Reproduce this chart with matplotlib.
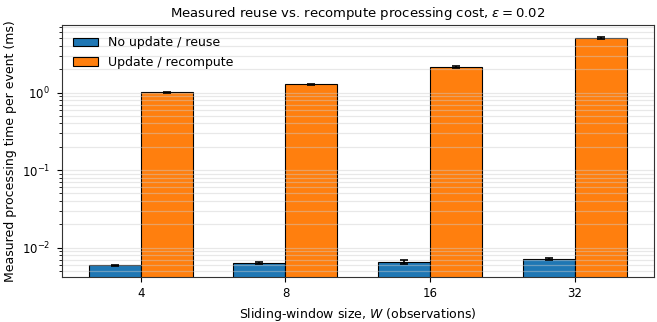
import matplotlib
matplotlib.use("Agg")
from matplotlib import pyplot as plt
import numpy as np

# Datos
windows = ["4", "8", "16", "32"]
reuse_ms = [0.00593, 0.00628, 0.00654, 0.00715]
reuse_err = [0.00010, 0.00015, 0.00040, 0.00030]
recompute_ms = [1.01, 1.27, 2.14, 5.0]
recompute_err = [0.01, 0.03, 0.06, 0.15]

labels = ["No update / reuse", "Update / recompute"]

x = np.arange(len(windows))
width = 0.36

fig, ax = plt.subplots(figsize=(6.57, 3.22), dpi=100)

ax.bar(x - width / 2, reuse_ms, width, yerr=reuse_err, capsize=3,
       color="#1f77b4", edgecolor="black", linewidth=0.8,
       error_kw=dict(elinewidth=1.2, capthick=1.2), label=labels[0])
ax.bar(x + width / 2, recompute_ms, width, yerr=recompute_err, capsize=3,
       color="#ff7f0e", edgecolor="black", linewidth=0.8,
       error_kw=dict(elinewidth=1.2, capthick=1.2), label=labels[1])

ax.set_yscale("log")
ax.set_ylim(0.00415, 7.4)
ax.set_xlim(-0.547, 3.547)
ax.set_xticks(x)
ax.set_xticklabels(windows)

ax.grid(True, which="both", axis="y", color="#cccccc", alpha=0.45, linewidth=0.9)

ax.set_title(r"Measured reuse vs. recompute processing cost, $\varepsilon = 0.02$", fontsize=9.5)
ax.set_xlabel(r"Sliding-window size, $W$ (observations)", fontsize=9)
ax.set_ylabel("Measured processing time per event (ms)", fontsize=9, labelpad=3)
ax.tick_params(labelsize=8.5)
ax.tick_params(axis="y", pad=5)
for s in ax.spines.values():
    s.set_color("#333333")

ax.legend(loc="upper left", frameon=False, fontsize=9)

fig.subplots_adjust(left=0.094, right=0.995, top=0.922, bottom=0.139)
fig.savefig("out.png", dpi=100)
